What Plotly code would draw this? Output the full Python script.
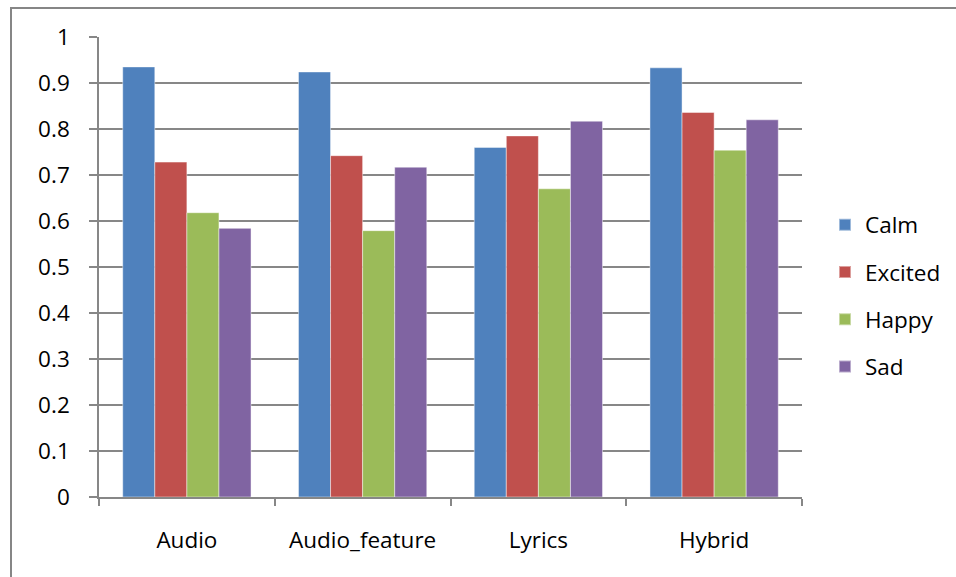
import plotly.graph_objects as go

categories = ["Audio", "Audio_feature", "Lyrics", "Hybrid"]
calm = [0.935, 0.924, 0.760, 0.933]
excited = [0.728, 0.742, 0.785, 0.836]
happy = [0.618, 0.579, 0.670, 0.754]
sad = [0.584, 0.717, 0.817, 0.820]

series = [
    ("Calm", calm, "#4F81BD"),
    ("Excited", excited, "#C0504D"),
    ("Happy", happy, "#9BBB59"),
    ("Sad", sad, "#8064A2"),
]

W, H = 956, 577
L, R, T, B = 99, 802, 37, 497  # plot area in pixels

fig = go.Figure()
for name, vals, color in series:
    fig.add_trace(go.Bar(
        name=name, x=categories, y=vals,
        marker=dict(color=color, line=dict(color="rgba(255,255,255,0.45)", width=1)),
        legendgroup=name,
    ))

font = dict(family="Open Sans", size=22.5, color="#000000")
grid = "#878787"

def px_to_paper_x(p):
    return (p - L) / (R - L)

def px_to_paper_y(p):
    return (B - p) / (B - T)

fig.update_layout(
    width=W, height=H,
    margin=dict(l=L, r=W - R, t=T, b=H - B, autoexpand=False),
    paper_bgcolor="white", plot_bgcolor="white",
    barmode="group", bargap=0.27, bargroupgap=0,
    font=font,
    legend=dict(
        x=px_to_paper_x(825), xanchor="left",
        y=px_to_paper_y(295.5), yanchor="middle",
        font=font, tracegroupgap=15, itemsizing="constant",
        bgcolor="rgba(0,0,0,0)",
    ),
    xaxis=dict(
        showline=True, linecolor=grid, linewidth=1.5,
        ticks="outside", tickson="boundaries", ticklen=7, tickcolor=grid, tickwidth=1.5,
        showgrid=False, ticklabelstandoff=22, tickfont=font,
    ),
    yaxis=dict(
        range=[0, 1], dtick=0.1, tick0=0,
        showline=True, linecolor=grid, linewidth=1.5,
        ticks="outside", ticklen=8, tickcolor=grid, tickwidth=1.5,
        showgrid=True, gridcolor=grid, gridwidth=1.5,
        zeroline=False, ticklabelstandoff=15, tickfont=font,
    ),
    shapes=[dict(
        type="rect", xref="paper", yref="paper",
        x0=px_to_paper_x(11), x1=px_to_paper_x(965),
        y0=px_to_paper_y(585), y1=px_to_paper_y(8),
        line=dict(color="#868686", width=2), fillcolor="rgba(0,0,0,0)",
        layer="below",
    )],
)

fig.write_html("out.html")
